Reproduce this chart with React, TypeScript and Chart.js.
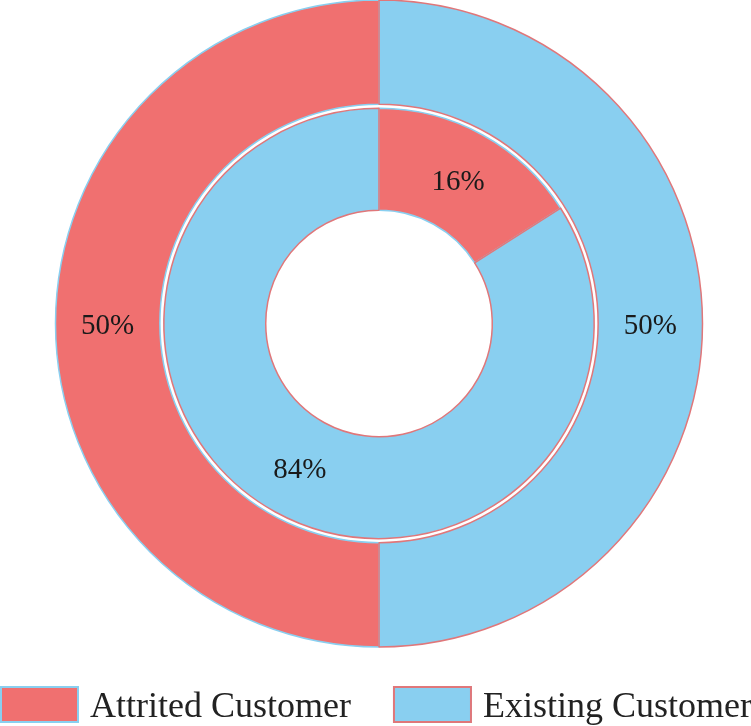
import React, { useEffect, useRef } from "react";
import { Chart, registerables } from "chart.js";

Chart.register(...registerables);

const categories = ["Attrited Customer", "Existing Customer"];
const outerValues = [50, 50];
const innerValues = [16, 84];
const fillColors = ["#F07070", "#89CFF0"];
const edgeColors = ["#89CFF0", "#E0777A"];

const FONT = "'Liberation Serif', 'Times New Roman', serif";

const labelPlugin = {
  id: "ringLabels",
  afterDatasetsDraw(chart: any) {
    const ctx = chart.ctx;
    ctx.save();
    ctx.font = `29px ${FONT}`;
    ctx.fillStyle = "#1a1a1a";
    ctx.textAlign = "center";
    ctx.textBaseline = "middle";
    chart.data.datasets.forEach((ds: any, i: number) => {
      if (!ds.showLabels) return;
      const meta = chart.getDatasetMeta(i);
      const total = ds.data.reduce((a: number, b: number) => a + b, 0);
      meta.data.forEach((arc: any, j: number) => {
        const p = arc.tooltipPosition();
        const pct = Math.round((ds.data[j] / total) * 100) + "%";
        ctx.fillText(pct, p.x, p.y + 3);
      });
    });
    ctx.restore();
  },
};

const legendPlugin = {
  id: "boxLegend",
  afterDraw(chart: any) {
    const ctx = chart.ctx;
    ctx.save();
    ctx.font = `36px ${FONT}`;
    const boxW = 79;
    const boxH = 37;
    const textGap = 11;
    const itemGap = 42;
    const widths = categories.map((c) => boxW + textGap + ctx.measureText(c).width);
    const total = widths.reduce((a, b) => a + b, 0) + itemGap * (categories.length - 1);
    let x = Math.max(0, (chart.width - total) / 2);
    const top = chart.height - 40;
    categories.forEach((c, i) => {
      ctx.fillStyle = fillColors[i];
      ctx.fillRect(x, top, boxW, boxH);
      ctx.strokeStyle = edgeColors[i];
      ctx.lineWidth = 2;
      ctx.strokeRect(x + 1, top + 1, boxW - 2, boxH - 2);
      ctx.fillStyle = "#222222";
      ctx.textAlign = "left";
      ctx.textBaseline = "alphabetic";
      ctx.fillText(c, x + boxW + textGap, top + 31);
      x += widths[i] + itemGap;
    });
    ctx.restore();
  },
};

export default function App() {
  const ref = useRef<HTMLCanvasElement>(null);
  useEffect(() => {
    if (!ref.current) return;
    const chart = new Chart(ref.current, {
      type: "doughnut",
      data: {
        labels: categories,
        datasets: [
          {
            data: outerValues,
            backgroundColor: fillColors,
            borderColor: edgeColors,
            borderWidth: 1.5,
            rotation: 180,
            weight: 1.045,
            showLabels: true,
          } as any,
          {
            data: [1],
            backgroundColor: ["rgba(0,0,0,0)"],
            borderWidth: 0,
            weight: 0.04,
            showLabels: false,
          } as any,
          {
            data: innerValues,
            backgroundColor: fillColors,
            borderColor: edgeColors,
            borderWidth: 1.5,
            weight: 1.02,
            showLabels: true,
          } as any,
        ],
      },
      options: {
        animation: false,
        responsive: true,
        maintainAspectRatio: false,
        radius: 323.5,
        cutout: 113,
        layout: { padding: { left: 7, right: 0, top: 0, bottom: 79 } },
        plugins: {
          legend: { display: false },
          tooltip: { enabled: false },
        },
      } as any,
      plugins: [labelPlugin, legendPlugin],
    });
    return () => chart.destroy();
  }, []);
  return (
    <div style={{ position: "absolute", left: 0, top: 0, width: 751, height: 726, background: "#fff" }}>
      <canvas ref={ref} />
    </div>
  );
}
